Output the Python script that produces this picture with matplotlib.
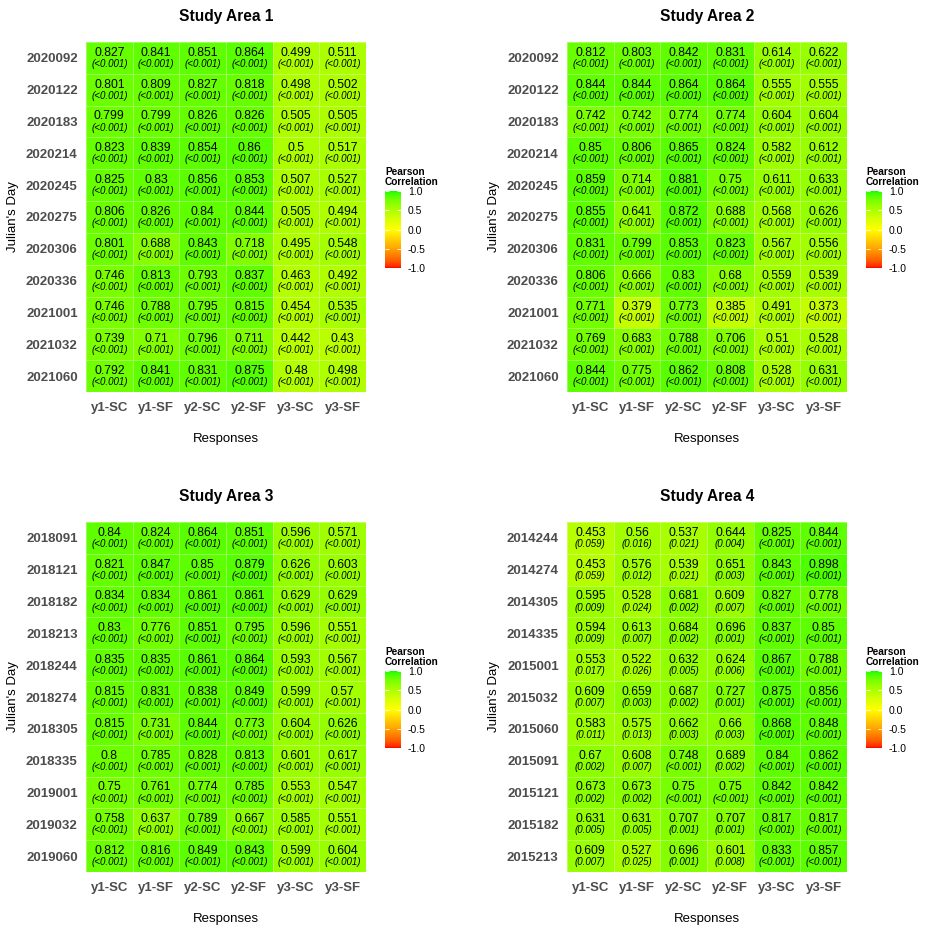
import numpy as np
import matplotlib
matplotlib.use("Agg")
import matplotlib.pyplot as plt
from matplotlib.colors import ListedColormap, Normalize
import matplotlib.cm as cm

plt.rcParams['font.family'] = ['Liberation Sans', 'DejaVu Sans']

# ---- data ----
responses = ['y1-SC', 'y1-SF', 'y2-SC', 'y2-SF', 'y3-SC', 'y3-SF']

days1 = ['2020092', '2020122', '2020183', '2020214', '2020245', '2020275',
         '2020306', '2020336', '2021001', '2021032', '2021060']
r1 = [[0.827, 0.841, 0.851, 0.864, 0.499, 0.511],
      [0.801, 0.809, 0.827, 0.818, 0.498, 0.502],
      [0.799, 0.799, 0.826, 0.826, 0.505, 0.505],
      [0.823, 0.839, 0.854, 0.86, 0.5, 0.517],
      [0.825, 0.83, 0.856, 0.853, 0.507, 0.527],
      [0.806, 0.826, 0.84, 0.844, 0.505, 0.494],
      [0.801, 0.688, 0.843, 0.718, 0.495, 0.548],
      [0.746, 0.813, 0.793, 0.837, 0.463, 0.492],
      [0.746, 0.788, 0.795, 0.815, 0.454, 0.535],
      [0.739, 0.71, 0.796, 0.711, 0.442, 0.43],
      [0.792, 0.841, 0.831, 0.875, 0.48, 0.498]]
p1 = [['<0.001'] * 6 for _ in days1]

days2 = days1
r2 = [[0.812, 0.803, 0.842, 0.831, 0.614, 0.622],
      [0.844, 0.844, 0.864, 0.864, 0.555, 0.555],
      [0.742, 0.742, 0.774, 0.774, 0.604, 0.604],
      [0.85, 0.806, 0.865, 0.824, 0.582, 0.612],
      [0.859, 0.714, 0.881, 0.75, 0.611, 0.633],
      [0.855, 0.641, 0.872, 0.688, 0.568, 0.626],
      [0.831, 0.799, 0.853, 0.823, 0.567, 0.556],
      [0.806, 0.666, 0.83, 0.68, 0.559, 0.539],
      [0.771, 0.379, 0.773, 0.385, 0.491, 0.373],
      [0.769, 0.683, 0.788, 0.706, 0.51, 0.528],
      [0.844, 0.775, 0.862, 0.808, 0.528, 0.631]]
p2 = [['<0.001'] * 6 for _ in days2]

days3 = ['2018091', '2018121', '2018182', '2018213', '2018244', '2018274',
         '2018305', '2018335', '2019001', '2019032', '2019060']
r3 = [[0.84, 0.824, 0.864, 0.851, 0.596, 0.571],
      [0.821, 0.847, 0.85, 0.879, 0.626, 0.603],
      [0.834, 0.834, 0.861, 0.861, 0.629, 0.629],
      [0.83, 0.776, 0.851, 0.795, 0.596, 0.551],
      [0.835, 0.835, 0.861, 0.864, 0.593, 0.567],
      [0.815, 0.831, 0.838, 0.849, 0.599, 0.57],
      [0.815, 0.731, 0.844, 0.773, 0.604, 0.626],
      [0.8, 0.785, 0.828, 0.813, 0.601, 0.617],
      [0.75, 0.761, 0.774, 0.785, 0.553, 0.547],
      [0.758, 0.637, 0.789, 0.667, 0.585, 0.551],
      [0.812, 0.816, 0.849, 0.843, 0.599, 0.604]]
p3 = [['<0.001'] * 6 for _ in days3]

days4 = ['2014244', '2014274', '2014305', '2014335', '2015001', '2015032',
         '2015060', '2015091', '2015121', '2015182', '2015213']
r4 = [[0.453, 0.56, 0.537, 0.644, 0.825, 0.844],
      [0.453, 0.576, 0.539, 0.651, 0.843, 0.898],
      [0.595, 0.528, 0.681, 0.609, 0.827, 0.778],
      [0.594, 0.613, 0.684, 0.696, 0.837, 0.85],
      [0.553, 0.522, 0.632, 0.624, 0.867, 0.788],
      [0.609, 0.659, 0.687, 0.727, 0.875, 0.856],
      [0.583, 0.575, 0.662, 0.66, 0.868, 0.848],
      [0.67, 0.608, 0.748, 0.689, 0.84, 0.862],
      [0.673, 0.673, 0.75, 0.75, 0.842, 0.842],
      [0.631, 0.631, 0.707, 0.707, 0.817, 0.817],
      [0.609, 0.527, 0.696, 0.601, 0.833, 0.857]]
p4 = [['0.059', '0.016', '0.021', '0.004', '<0.001', '<0.001'],
      ['0.059', '0.012', '0.021', '0.003', '<0.001', '<0.001'],
      ['0.009', '0.024', '0.002', '0.007', '<0.001', '<0.001'],
      ['0.009', '0.007', '0.002', '0.001', '<0.001', '<0.001'],
      ['0.017', '0.026', '0.005', '0.006', '<0.001', '<0.001'],
      ['0.007', '0.003', '0.002', '0.001', '<0.001', '<0.001'],
      ['0.011', '0.013', '0.003', '0.003', '<0.001', '<0.001'],
      ['0.002', '0.007', '<0.001', '0.002', '<0.001', '<0.001'],
      ['0.002', '0.002', '<0.001', '<0.001', '<0.001', '<0.001'],
      ['0.005', '0.005', '0.001', '0.001', '<0.001', '<0.001'],
      ['0.007', '0.025', '0.001', '0.008', '<0.001', '<0.001']]


# ---- red / yellow / green gradient interpolated in Lab (like ggplot) ----
def srgb_to_lab(c):
    c = np.asarray(c, float)
    lin = np.where(c <= 0.04045, c / 12.92, ((c + 0.055) / 1.055) ** 2.4)
    M = np.array([[0.4124, 0.3576, 0.1805],
                  [0.2126, 0.7152, 0.0722],
                  [0.0193, 0.1192, 0.9505]])
    xyz = M @ lin / np.array([0.95047, 1.0, 1.08883])
    f = np.where(xyz > 0.008856, np.cbrt(xyz), 7.787 * xyz + 16 / 116)
    return np.array([116 * f[1] - 16, 500 * (f[0] - f[1]), 200 * (f[1] - f[2])])


def lab_to_srgb(lab):
    L, a, b = lab
    fy = (L + 16) / 116
    fx = fy + a / 500
    fz = fy - b / 200
    f = np.array([fx, fy, fz])
    xyz = np.where(f ** 3 > 0.008856, f ** 3, (f - 16 / 116) / 7.787)
    xyz = xyz * np.array([0.95047, 1.0, 1.08883])
    Minv = np.array([[3.2406, -1.5372, -0.4986],
                     [-0.9689, 1.8758, 0.0415],
                     [0.0557, -0.2040, 1.0570]])
    lin = np.clip(Minv @ xyz, 0, 1)
    c = np.where(lin <= 0.0031308, 12.92 * lin, 1.055 * lin ** (1 / 2.4) - 0.055)
    return np.clip(c, 0, 1)


red, yellow, green = srgb_to_lab([1, 0, 0]), srgb_to_lab([1, 1, 0]), srgb_to_lab([0, 1, 0])
colors = []
for t in np.linspace(-1, 1, 256):
    if t < 0:
        lab = yellow + (red - yellow) * (-t)
    else:
        lab = yellow + (green - yellow) * t
    colors.append(lab_to_srgb(lab))
cmap = ListedColormap(colors)
norm = Normalize(-1, 1)

W, H = 925, 927
fig = plt.figure(figsize=(W / 100, H / 100), dpi=100)
fig.patch.set_facecolor('white')


def px_axes(x0, y0, x1, y1):
    return fig.add_axes([x0 / W, 1 - y1 / H, (x1 - x0) / W, (y1 - y0) / H])


panels = [
    ('Study Area 1', days1, r1, p1, 86, 42),
    ('Study Area 2', days2, r2, p2, 567, 42),
    ('Study Area 3', days3, r3, p3, 86, 522),
    ('Study Area 4', days4, r4, p4, 567, 522),
]

for title, days, r, p, x0, y0 in panels:
    ax = px_axes(x0, y0, x0 + 280, y0 + 350)
    vals = np.array(r)
    ax.pcolormesh(np.arange(7) - 0.5, np.arange(12) - 0.5, vals, cmap=cmap, norm=norm,
                  edgecolors=(1, 1, 1, 0.35), linewidth=0.6)
    ax.set_xlim(-0.5, 5.5)
    ax.set_ylim(10.5, -0.5)
    for i in range(len(days)):
        for j in range(len(responses)):
            ax.text(j, i - 0.16, f"{vals[i, j]:g}", ha='center', va='center', fontsize=8.8)
            ax.text(j, i + 0.19, f"({p[i][j]})", ha='center', va='center',
                    fontsize=7, style='italic')
    for s in ax.spines.values():
        s.set_visible(False)
    ax.set_xticks(range(6))
    ax.set_xticklabels(responses, fontsize=9.5, fontweight='bold', color='#4D4D4D')
    ax.set_yticks(range(11))
    ax.set_yticklabels(days, fontsize=9.5, fontweight='bold', color='#4D4D4D')
    ax.tick_params(axis='y', length=0, pad=6)
    ax.tick_params(axis='x', length=0, pad=7)
    ax.set_xlabel('Responses', fontsize=9.5)
    ax.xaxis.set_label_coords(0.5, -0.117)
    ax.set_ylabel("Julian's Day", fontsize=9.5)
    ax.yaxis.set_label_coords(-0.239, 0.5)
    ax.set_title(title, fontsize=11.2, fontweight='bold', pad=15)

    # legend colorbar
    cx = x0 + 299
    cy = y0 + 149
    cax = px_axes(cx, cy, cx + 16, cy + 77)
    cb = fig.colorbar(cm.ScalarMappable(norm=norm, cmap=cmap), cax=cax,
                      ticks=[-1, -0.5, 0, 0.5, 1])
    cb.outline.set_visible(False)
    cb.ax.set_yticklabels(['-1.0', '-0.5', '0.0', '0.5', '1.0'])
    cax.yaxis.set_ticks_position('both')
    cax.tick_params(axis='y', direction='in', color='white', length=3, width=0.6,
                    labelsize=7.5, labelleft=False, labelright=True, pad=5)
    fig.text(cx / W, 1 - (cy - 24) / H, 'Pearson\nCorrelation', fontsize=7.3,
             fontweight='bold', ha='left', va='top', linespacing=1.0)

fig.savefig('out.png', dpi=100, facecolor='white')
